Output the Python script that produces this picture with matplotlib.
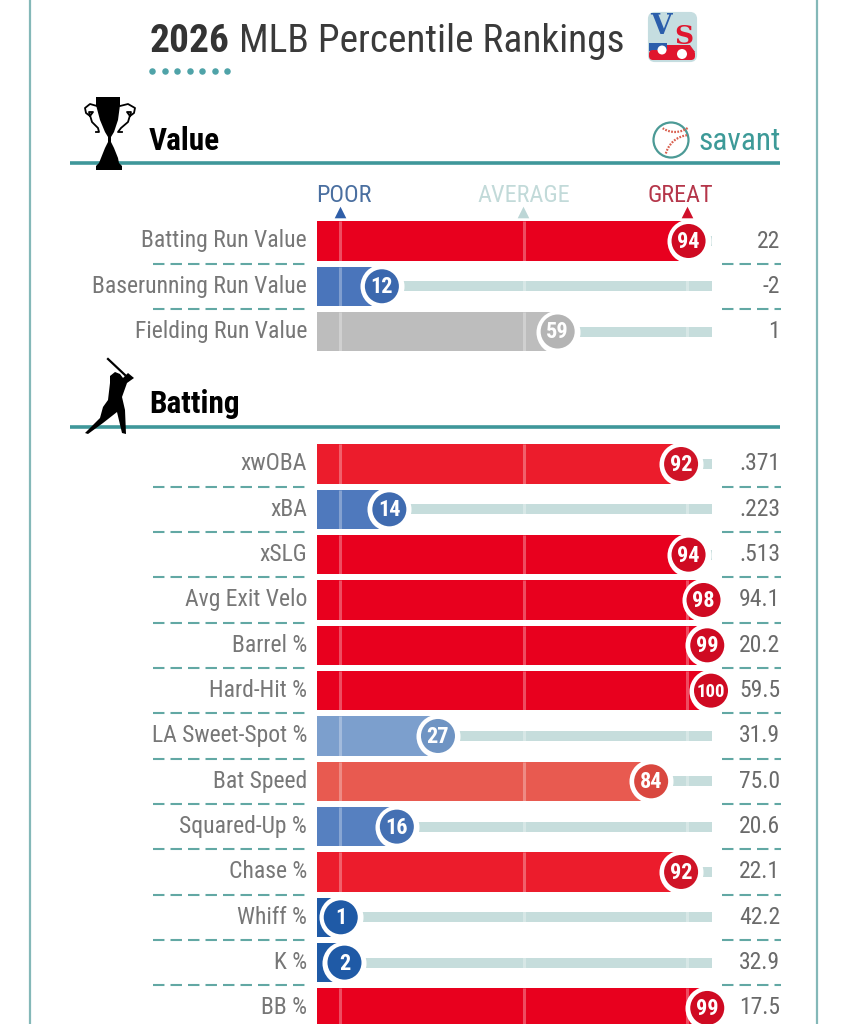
import matplotlib
matplotlib.use("Agg")
import matplotlib.pyplot as plt
from matplotlib.patches import Circle, FancyBboxPatch, Polygon, Arc, Rectangle
from matplotlib.transforms import blended_transform_factory

plt.rcParams["font.family"] = ["Roboto Condensed", "Liberation Sans Narrow", "Roboto", "DejaVu Sans"]

# ---------- Data ----------
value_labels = ["Batting Run Value", "Baserunning Run Value", "Fielding Run Value"]
value_pct = [94, 12, 59]
value_stats = ["22", "-2", "1"]

batting_labels = ["xwOBA", "xBA", "xSLG", "Avg Exit Velo", "Barrel %", "Hard-Hit %",
                  "LA Sweet-Spot %", "Bat Speed", "Squared-Up %", "Chase %",
                  "Whiff %", "K %", "BB %"]
batting_pct = [92, 14, 94, 98, 99, 100, 27, 84, 16, 92, 1, 2, 99]
batting_stats = [".371", ".223", ".513", "94.1", "20.2", "59.5", "31.9", "75.0",
                 "20.6", "22.1", "42.2", "32.9", "17.5"]

# percentile -> (bar colour, badge colour)
pct_colors = {
    1: ("#1f5aa6", "#1f5aa6"), 2: ("#1f5aa6", "#1f5aa6"),
    12: ("#4a75bb", "#3b68ae"), 14: ("#4f79bd", "#3f6bb0"), 16: ("#5680c0", "#4470b3"),
    27: ("#7c9fcd", "#6f94c3"), 59: ("#bdbdbd", "#b4b4b4"),
    84: ("#e85a50", "#d9473f"), 92: ("#ec1c2c", "#cf1427"),
    94: ("#e8001e", "#cf0a22"), 98: ("#e8001e", "#cf0a22"),
    99: ("#e8001e", "#cf0a22"), 100: ("#e8001e", "#cf0a22"),
}

TEAL = "#3f979a"
DASH = "#62a8a4"
TRACK = "#c6dddc"

# ---------- Layout (pixels of the 846x1024 figure) ----------
W, H = 846, 1024
PCT0 = 337.0     # x pixel of percentile 0
PX_PER_PCT = 3.74
BAR_LEFT = (317 - PCT0) / PX_PER_PCT
TRACK_END = (712 - PCT0) / PX_PER_PCT
TICKS = [0.8, 50, 93.5]

fig = plt.figure(figsize=(W / 100, H / 100), dpi=100, facecolor="white")

pix = fig.add_axes([0, 0, 1, 1])
pix.set_xlim(0, W)
pix.set_ylim(H, 0)
pix.axis("off")


def section_axes(y0, pitch):
    ax = fig.add_axes([0, 0, 1, 1], facecolor="none")
    ax.set_xlim(-PCT0 / PX_PER_PCT, (W - PCT0) / PX_PER_PCT)
    ax.set_ylim((H - y0) / pitch, -y0 / pitch)
    ax.axis("off")
    return ax


def draw_rows(ax, labels, pcts, stats, pitch):
    tr = blended_transform_factory(pix.transData, ax.transData)
    rows = list(range(len(labels)))
    h = 39.5 / pitch
    track_h = 10 / pitch
    bar_cols = [pct_colors[p][0] for p in pcts]
    badge_cols = [pct_colors[p][1] for p in pcts]

    ax.barh(rows, [TRACK_END - p for p in pcts], left=pcts, height=track_h, color=TRACK, zorder=1)
    ax.barh(rows, [p - BAR_LEFT for p in pcts], left=BAR_LEFT, height=h, color=bar_cols, zorder=2)
    for t in TICKS:
        ax.vlines([t] * len(rows), [r - h / 2 for r in rows], [r + h / 2 for r in rows],
                  color="white", alpha=0.3, lw=2.2, zorder=3)
    ax.scatter(pcts, rows, s=1005, color="white", linewidths=0, zorder=4)
    ax.scatter(pcts, rows, s=600, color=badge_cols, linewidths=0, zorder=5)

    for r, lab, p, st in zip(rows, labels, pcts, stats):
        ax.text(p, r + 0.02, str(p), color="white", fontsize=13.5 if p == 100 else 16,
                fontweight="bold", ha="center", va="center", zorder=6)
        ax.text(307, r, lab, transform=tr, color="#777777", fontsize=17,
                ha="right", va="center")
        ax.text(780, r, st, transform=tr, color="#6a6a6a", fontsize=17,
                ha="right", va="center")
        if r < len(labels) - 1 or len(labels) > 3:
            ax.plot([153, 307], [r + 0.5, r + 0.5], transform=tr, color=DASH, lw=1.5,
                    dashes=(5.5, 2.9))
            ax.plot([722, 781], [r + 0.5, r + 0.5], transform=tr, color=DASH, lw=1.5,
                    dashes=(5.5, 2.9))


# ---------- Frame and header ----------
pix.plot([30, 30], [0, H], color="#84b8b8", lw=1.6)
pix.plot([817, 817], [0, H], color="#84b8b8", lw=1.6)

title = pix.text(150, 41, "2026", fontsize=28.4, fontweight="bold", color="#333333",
                 ha="left", va="center")
pix.annotate(" MLB Percentile Rankings", xy=(1, 0.5), xycoords=title, fontsize=28.4,
             color="#3a3a3a", ha="left", va="center")

pix.scatter([152 + i * 12.5 for i in range(7)], [71] * 7, s=22, color="#4fa3a8", linewidths=0)

# VS logo
pix.add_patch(FancyBboxPatch((650, 14), 45, 46, boxstyle="round,pad=0,rounding_size=5",
                             fc="#c5dde0", ec="#c5dde0", lw=3))
pix.add_patch(Rectangle((649, 43), 18, 8, fc="#2b5eab", ec="none"))
pix.add_patch(FancyBboxPatch((649, 50), 46, 10, boxstyle="round,pad=0,rounding_size=4",
                             fc="#e0152d", ec="none"))
pix.add_patch(Polygon([(667, 45), (690, 45), (695, 52), (667, 52)], fc="#e0152d", ec="none"))
pix.add_patch(Circle((662, 50), 4.5, fc="white", ec="none"))
pix.add_patch(Circle((682, 54), 5, fc="white", ec="none"))
pix.text(661, 27, "V", family="DejaVu Serif", fontweight="bold", fontsize=20, color="#2b5eab",
         ha="center", va="center")
pix.text(684, 36, "S", family="DejaVu Serif", fontweight="bold", fontsize=19, color="#e0152d",
         ha="center", va="center")

# Section headers
for y in (163, 427):
    pix.plot([70, 780], [y, y], color=TEAL, lw=2.6, solid_capstyle="butt", zorder=1)
pix.text(149, 141, "Value", fontsize=22.5, fontweight="bold", color="black", va="center")
pix.text(149, 404, "Batting", fontsize=22.5, fontweight="bold", color="black", va="center")

# savant logo
pix.add_patch(Circle((671, 140), 17.5, fc="white", ec="#4c9a96", lw=1.6))
pix.add_patch(Arc((675, 110), 44, 44, theta1=55, theta2=124, color="#d9604f", lw=1.6,
                  ls=(0, (0.8, 0.6))))
pix.add_patch(Arc((690, 160), 50, 50, theta1=195, theta2=263, color="#d9604f", lw=1.6,
                  ls=(0, (0.8, 0.6))))
pix.text(699, 142, "savant", fontsize=22.7, color="#3d9a98", va="center")

# Trophy
pix.add_patch(Polygon([(96, 97), (120, 97), (120, 105), (118, 120), (114, 132), (111, 137),
                       (111, 142), (114, 148), (118, 158), (119, 163), (122, 166), (122, 170),
                       (96, 170), (96, 166), (99, 163), (101, 158), (105, 148), (108, 142),
                       (108, 137), (105, 132), (100, 120), (96, 105)],
                      fc="black", ec="none", zorder=3))
pix.plot([97, 90, 85, 86, 90, 93, 89, 92, 98, 99, 96],
         [106, 104, 108, 113, 116, 112, 112, 122, 128, 132, 132],
         color="black", lw=1.3, zorder=3)
pix.plot([120, 128, 135, 134, 130, 127, 131, 128, 121, 118, 122],
         [106, 104, 108, 113, 116, 112, 112, 122, 128, 132, 132],
         color="black", lw=1.3, zorder=3)

# Batter
pix.add_patch(Polygon([(85, 433), (100, 418), (103, 407), (108, 400), (110, 383), (110, 376),
                       (115, 372), (120, 374), (123, 378), (128, 373), (134, 378), (127, 383),
                       (122, 397), (125, 410), (126, 434), (122, 433), (117, 412), (103, 423),
                       (88, 434)],
                      fc="black", ec="none", zorder=3))
pix.plot([108, 125], [359, 375], color="black", lw=1.6, zorder=3)

# POOR / AVERAGE / GREAT
for x, tx, name, tc, mc in ((340, 344, "POOR", "#4a6fa0", "#2f5ea8"),
                            (523, 524, "AVERAGE", "#c2dad9", "#bcd6d6"),
                            (687, 680, "GREAT", "#b5364a", "#d0102a")):
    pix.text(tx, 195, name, fontsize=17.5, color=tc, ha="center", va="center")
    pix.scatter([x], [212], marker="^", s=70, color=mc, linewidths=0)

# ---------- Rows ----------
PITCH_V = 45.25
PITCH_B = 45.33
draw_rows(section_axes(241, PITCH_V), value_labels, value_pct, value_stats, PITCH_V)
draw_rows(section_axes(464, PITCH_B), batting_labels, batting_pct, batting_stats, PITCH_B)

fig.savefig("out.png", dpi=100)
